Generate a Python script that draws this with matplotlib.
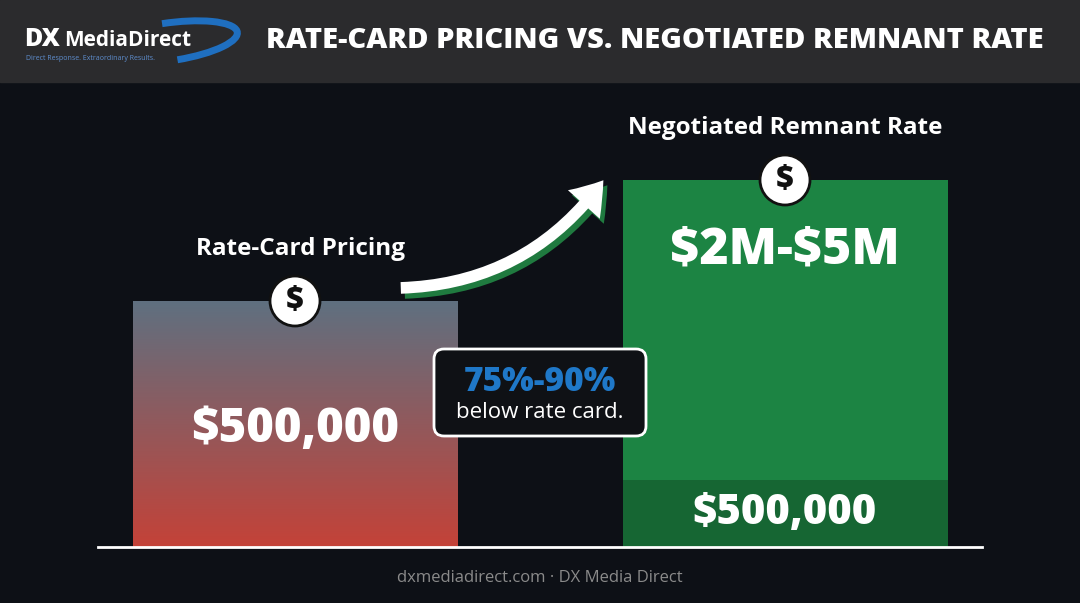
import matplotlib
matplotlib.use("Agg")
import matplotlib.pyplot as plt
import numpy as np
from matplotlib.patches import FancyBboxPatch, Circle, FancyArrowPatch, Rectangle, Arc

plt.rcParams['font.family'] = ['Open Sans', 'DejaVu Sans']
plt.rcParams['text.parse_math'] = False

categories = ["Rate-Card Pricing", "Negotiated Remnant Rate"]
value_labels = ["$500,000", "$2M-$5M"]
base_label = "$500,000"
bar_heights = [246, 367]       # pixel-scale heights
base_segment = 67
callout_pct = "75%-90%"
callout_txt = "below rate card."
title = "RATE-CARD PRICING VS. NEGOTIATED REMNANT RATE"
footer = "dxmediadirect.com · DX Media Direct"

W, H = 1080, 603
fig = plt.figure(figsize=(W/100, H/100), dpi=100)
fig.patch.set_facecolor("#0d1016")
ax = fig.add_axes([0, 0, 1, 1])
ax.set_xlim(0, W); ax.set_ylim(0, H); ax.axis("off")

# header
ax.add_patch(Rectangle((0, H-82), W, 82, color="#2b2b2d", zorder=1))
ax.text(655, H-41, title, color="white", fontsize=21, fontweight="heavy", ha="center", va="center", zorder=3)
ax.add_patch(Arc((168, H-42), 140, 38, angle=8, theta1=-70, theta2=100, color="#1f6fc0", lw=5, zorder=2))
ax.text(24, H-40, "DX", color="white", fontsize=18, fontweight="heavy", ha="left", va="center", zorder=3)
ax.text(64, H-40, "MediaDirect", color="white", fontsize=15, fontweight="bold", ha="left", va="center", zorder=3)
ax.text(26, H-59, "Direct Response. Extraordinary Results.", color="#5f8fd0", fontsize=5, ha="left", va="center", zorder=3)

baseline = H - 547
xs = [295, 785]
width = 325
bars = ax.bar(xs, bar_heights, width=width, bottom=baseline, zorder=2)
top_c = np.array([0x5f, 0x70, 0x80]) / 255
bot_c = np.array([0xc4, 0x42, 0x38]) / 255
t = np.linspace(0, 1, 256)[:, None]
grad = (top_c * (1 - t) + bot_c * t)[:, None, :].repeat(2, axis=1)
b0 = bars[0]
b0.set_facecolor("none")
im = ax.imshow(grad, extent=[xs[0]-width/2, xs[0]+width/2, baseline, baseline+bar_heights[0]],
               aspect="auto", zorder=2)
im.set_clip_path(b0)
bars[1].set_facecolor("#1c8443")
ax.bar(xs[1], base_segment, width=width, bottom=baseline, color="#166633", zorder=3)

ax.plot([98, 982], [baseline, baseline], color="white", lw=2, zorder=4)

ax.text(xs[0]+6, baseline+bar_heights[0]+52, categories[0], color="white", fontsize=17.5, fontweight="bold", ha="center", va="center", zorder=5)
ax.text(xs[1], baseline+bar_heights[1]+52, categories[1], color="white", fontsize=17.5, fontweight="bold", ha="center", va="center", zorder=5)
ax.text(xs[0], H-430, value_labels[0], color="white", fontsize=34, fontweight="heavy", ha="center", va="center", zorder=5)
ax.text(xs[1], H-250, value_labels[1], color="white", fontsize=36, fontweight="heavy", ha="center", va="center", zorder=5)
ax.text(xs[1], H-513, base_label, color="white", fontsize=30, fontweight="heavy", ha="center", va="center", zorder=5)

for i, x in enumerate(xs):
    y = baseline + bar_heights[i]
    ax.add_patch(Circle((x, y), 25, fc="white", ec="#111", lw=2, zorder=6))
    ax.text(x, y, "$", color="#111", fontsize=22, fontweight="heavy", ha="center", va="center", zorder=7)

for off, col in [((4, -5), "#1f7a3f"), ((0, 0), "white")]:
    a = FancyArrowPatch((398+off[0], H-288+off[1]), (605+off[0], H-178+off[1]),
                        connectionstyle="arc3,rad=0.25", arrowstyle="simple,head_width=2.2,head_length=1.6,tail_width=0.6",
                        mutation_scale=14, fc=col, ec="none", zorder=5)
    ax.add_patch(a)

ax.add_patch(FancyBboxPatch((434, H-436), 212, 87, boxstyle="round,pad=0,rounding_size=10",
                            fc="#0f1115", ec="white", lw=2, zorder=6))
ax.text(540, H-382, callout_pct, color="#1f78c8", fontsize=24, fontweight="heavy", ha="center", va="center", zorder=7)
ax.text(540, H-412, callout_txt, color="white", fontsize=16, ha="center", va="center", zorder=7)

ax.text(540, H-578, footer, color="#8a8a8a", fontsize=12, ha="center", va="center", zorder=5)

fig.savefig("out.png", dpi=100, facecolor=fig.get_facecolor())
